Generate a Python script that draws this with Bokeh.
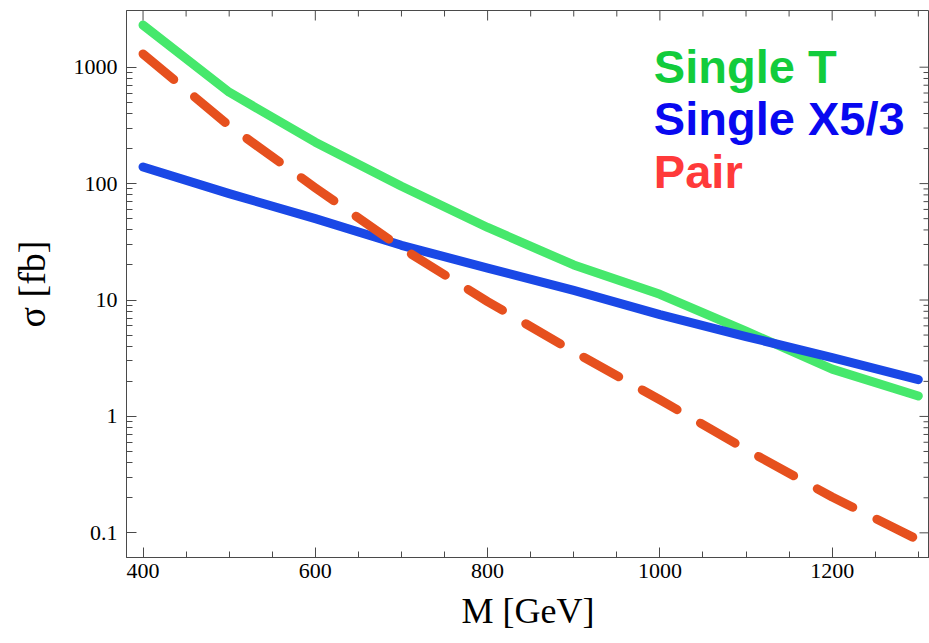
from bokeh.plotting import figure
from bokeh.models import Range1d, FixedTicker, Label, CustomJSTickFormatter
from bokeh.embed import file_html
from bokeh.resources import INLINE

# Cross sections (fb) versus heavy-quark mass (GeV)
mass = [400, 500, 600, 700, 800, 900, 1000, 1100, 1200, 1300]
single_t = [2300, 610, 227, 95, 42, 20, 11.2, 5.4, 2.55, 1.5]
single_x53 = [139, 82, 50, 29.5, 18.8, 12.1, 7.5, 4.85, 3.2, 2.07]
pair = [1300, 314, 92, 28, 9.7, 3.6, 1.39, 0.52, 0.203, 0.087]

x_major = [400, 600, 800, 1000, 1200]
x_minor = [450, 500, 550, 650, 700, 750, 850, 900, 950,
           1050, 1100, 1150, 1250, 1300]
y_major = [0.1, 1, 10, 100, 1000]
y_minor = [m * d for d in (0.1, 1, 10, 100) for m in range(2, 10)]

legend_entries = ["Single T", "Single X5/3", "Pair"]
legend_colors = ["#12CC3C", "#0808F0", "#FF3A3A"]

AXIS_GREY = "#4a4a4a"
SERIF = "Liberation Serif"
X_LO, X_HI = 380.8, 1313
Y_LO, Y_HI = 0.0614, 3069

p = figure(width=929, height=643, output_backend="svg", toolbar_location=None,
           x_range=Range1d(X_LO, X_HI), y_range=Range1d(Y_LO, Y_HI),
           y_axis_type="log",
           min_border_left=126, min_border_top=10, min_border_bottom=86,
           min_border_right=0)
p.grid.visible = False
p.background_fill_color = "white"
p.border_fill_color = "white"
p.outline_line_color = AXIS_GREY
p.outline_line_width = 1

# curves
p.line(mass, single_t, line_color="#46E86C", line_width=9,
       line_cap="round", line_join="round")
p.line(mass, single_x53, line_color="#1A48E6", line_width=9,
       line_cap="round", line_join="round")
p.line(mass, pair, line_color="#E6501E", line_width=9,
       line_cap="round", line_join="round", line_dash="40 27")


def style_axis(ax):
    ax.axis_line_color = AXIS_GREY
    ax.major_tick_line_color = AXIS_GREY
    ax.minor_tick_line_color = AXIS_GREY
    ax.major_tick_in = 10
    ax.major_tick_out = 0
    ax.minor_tick_in = 6
    ax.minor_tick_out = 0
    ax.major_label_text_font = SERIF
    ax.major_label_text_font_size = "22px"
    ax.major_label_text_color = "black"
    ax.axis_label_text_font = SERIF
    ax.axis_label_text_font_style = "normal"
    ax.axis_label_text_color = "black"


xa = p.xaxis[0]
xa.ticker = FixedTicker(ticks=x_major, minor_ticks=x_minor)
style_axis(xa)
xa.major_label_standoff = 6
xa.axis_label = "M [GeV]"
xa.axis_label_text_font_size = "36px"
xa.axis_label_standoff = 10

ya = p.yaxis[0]
ya.ticker = FixedTicker(ticks=y_major, minor_ticks=y_minor)
ya.formatter = CustomJSTickFormatter(code="return tick.toString();")
style_axis(ya)
ya.major_label_standoff = 9
ya.axis_label = "σ [fb]"
ya.axis_label_text_font_size = "38px"
ya.axis_label_standoff = 18

# mirrored inward ticks on the top and right edges of the frame
tick_kw = dict(line_color=AXIS_GREY, line_width=1, length_units="screen")
p.ray(x=x_major, y=[Y_HI] * len(x_major), length=10, angle=-90,
      angle_units="deg", **tick_kw)
p.ray(x=x_minor, y=[Y_HI] * len(x_minor), length=6, angle=-90,
      angle_units="deg", **tick_kw)
p.ray(x=[X_HI] * len(y_major), y=y_major, length=10, angle=180,
      angle_units="deg", **tick_kw)
p.ray(x=[X_HI] * len(y_minor), y=y_minor, length=6, angle=180,
      angle_units="deg", **tick_kw)

# in-plot legend text
legend_y = [1014, 363, 127]
for txt, col, yy in zip(legend_entries, legend_colors, legend_y):
    p.add_layout(Label(x=993, y=yy, text=txt, text_color=col,
                       text_font="Liberation Sans", text_font_style="bold",
                       text_font_size="47px", text_baseline="alphabetic"))

open("out.html", "w").write(file_html(p, INLINE))
